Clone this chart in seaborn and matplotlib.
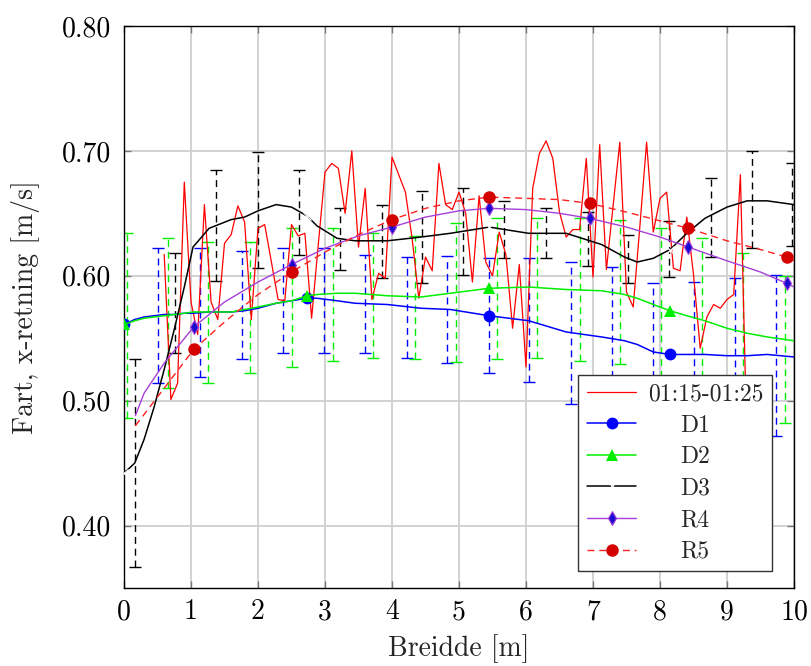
import numpy as np
import pandas as pd
import matplotlib
matplotlib.use("Agg")
import matplotlib.pyplot as plt
import seaborn as sns

# ---- data -------------------------------------------------------------
red_x = [round(0.6 + 0.1 * i, 1) for i in range(88)]
red_y = [0.617, 0.501, 0.514, 0.675, 0.579, 0.553, 0.657, 0.579, 0.565, 0.626,
         0.633, 0.656, 0.643, 0.565, 0.638, 0.641, 0.611, 0.581, 0.580, 0.641,
         0.632, 0.634, 0.566, 0.625, 0.683, 0.690, 0.686, 0.650, 0.700, 0.623,
         0.670, 0.581, 0.602, 0.598, 0.695, 0.681, 0.667, 0.630, 0.582, 0.615,
         0.604, 0.690, 0.657, 0.653, 0.667, 0.650, 0.595, 0.664, 0.611, 0.600,
         0.635, 0.617, 0.558, 0.609, 0.527, 0.670, 0.698, 0.708, 0.694, 0.651,
         0.631, 0.637, 0.637, 0.694, 0.599, 0.705, 0.605, 0.656, 0.707, 0.587,
         0.575, 0.640, 0.707, 0.635, 0.662, 0.667, 0.606, 0.604, 0.647, 0.601,
         0.542, 0.567, 0.577, 0.574, 0.581, 0.585, 0.681, 0.460]

d_x = [0, 0.16, 0.3, 0.45, 0.6, 0.75, 0.9, 1.03, 1.27, 1.6, 1.8, 2.0, 2.27, 2.5,
       2.73, 2.88, 3.18, 3.45, 3.93, 4.43, 4.87, 5.45, 6.04, 6.6, 7.13, 7.47,
       7.66, 7.9, 8.15, 8.4, 8.67, 9.0, 9.3, 9.6, 10.0]
d1_y = [0.561, 0.565, 0.567, 0.568, 0.569, 0.569, 0.570, 0.570, 0.571, 0.571,
        0.572, 0.574, 0.578, 0.580, 0.582, 0.582, 0.580, 0.578, 0.577, 0.574,
        0.573, 0.568, 0.564, 0.555, 0.551, 0.548, 0.545, 0.539, 0.537, 0.537,
        0.537, 0.536, 0.536, 0.537, 0.535]
d2_y = [0.561, 0.564, 0.566, 0.567, 0.568, 0.569, 0.570, 0.571, 0.571, 0.571,
        0.573, 0.575, 0.578, 0.580, 0.584, 0.585, 0.586, 0.586, 0.584, 0.583,
        0.586, 0.590, 0.591, 0.589, 0.588, 0.585, 0.582, 0.577, 0.572, 0.568,
        0.564, 0.558, 0.554, 0.551, 0.548]
d3_y = [0.442, 0.450, 0.469, 0.495, 0.525, 0.557, 0.591, 0.623, 0.638, 0.645,
        0.647, 0.652, 0.657, 0.655, 0.648, 0.640, 0.630, 0.628, 0.628, 0.631,
        0.634, 0.639, 0.634, 0.634, 0.625, 0.615, 0.611, 0.614, 0.621, 0.634,
        0.646, 0.655, 0.660, 0.660, 0.657]
d_marks = [0, 14, 21, 28]

r_x = [0.17, 0.3, 0.6, 1.04, 1.5, 2.0, 2.5, 3.0, 3.5, 4.0, 4.5, 5.0, 5.45, 6.0,
       6.5, 6.95, 7.5, 8.0, 8.42, 9.0, 9.5, 9.89, 10.0]
r4_y = [0.488, 0.506, 0.530, 0.559, 0.579, 0.595, 0.609, 0.622, 0.632, 0.639,
        0.647, 0.652, 0.654, 0.653, 0.650, 0.646, 0.639, 0.631, 0.623, 0.612,
        0.603, 0.594, 0.591]
r5_y = [0.480, 0.489, 0.510, 0.541, 0.563, 0.585, 0.603, 0.619, 0.633, 0.645,
        0.654, 0.660, 0.663, 0.662, 0.661, 0.658, 0.651, 0.644, 0.638, 0.628,
        0.621, 0.615, 0.612]
r_marks = [3, 6, 9, 12, 15, 18, 21]

# error bars (position, low, high)
e1_x = [0.51, 1.13, 1.76, 2.38, 2.99, 3.60, 4.22, 4.82, 5.45, 6.04, 6.67, 7.28, 7.90, 8.51, 9.12, 9.73]
e1_lo = [0.514, 0.519, 0.533, 0.538, 0.538, 0.538, 0.534, 0.530, 0.522, 0.515, 0.497, 0.490, 0.490, 0.490, 0.480, 0.472]
e1_hi = [0.622, 0.622, 0.620, 0.622, 0.622, 0.617, 0.615, 0.616, 0.614, 0.614, 0.611, 0.607, 0.594, 0.595, 0.598, 0.601]
e2_x = [0.04, 0.66, 1.26, 1.88, 2.50, 3.12, 3.72, 4.34, 4.95, 5.56, 6.17, 6.80, 7.40, 8.01, 8.63, 9.24, 9.86]
e2_lo = [0.486, 0.510, 0.514, 0.522, 0.527, 0.532, 0.534, 0.533, 0.531, 0.533, 0.534, 0.532, 0.529, 0.500, 0.500, 0.490, 0.482]
e2_hi = [0.634, 0.630, 0.627, 0.627, 0.638, 0.638, 0.634, 0.632, 0.642, 0.646, 0.646, 0.646, 0.645, 0.638, 0.630, 0.618, 0.600]
e3_x = [0.16, 0.76, 1.38, 2.00, 2.61, 3.22, 3.85, 4.45, 5.06, 5.67, 6.30, 6.92, 7.52, 8.14, 8.76, 9.37, 9.97]
e3_lo = [0.367, 0.538, 0.596, 0.606, 0.617, 0.605, 0.598, 0.594, 0.601, 0.614, 0.614, 0.608, 0.594, 0.599, 0.615, 0.622, 0.624]
e3_hi = [0.533, 0.618, 0.685, 0.699, 0.685, 0.654, 0.657, 0.668, 0.670, 0.660, 0.654, 0.651, 0.633, 0.644, 0.678, 0.700, 0.690]

x_ticks = [0, 1, 2, 3, 4, 5, 6, 7, 8, 9, 10]
y_ticks = [0.40, 0.50, 0.60, 0.70, 0.80]

# ---- style ------------------------------------------------------------
sns.set_style("whitegrid")
plt.rcParams["font.family"] = ["cmr10", "DejaVu Serif"]
plt.rcParams["axes.formatter.use_mathtext"] = True
plt.rcParams["mathtext.fontset"] = "cm"

fig = plt.figure(figsize=(8.11, 6.66), dpi=100)
ax = fig.add_axes([124 / 811, 1 - 588 / 666, 670 / 811, 562 / 666])

FS = 20
LFS = 17
BLUE = "#0000ff"
GREEN = "#00ee00"
PURPLE = "#a640d8"

sns.lineplot(x=red_x, y=red_y, ax=ax, color="#ff0000", lw=0.9,
             sort=False, estimator=None, label="01:15-01:25", zorder=3)

def ebars(xs, lo, hi, color, z):
    xs = np.asarray(xs); lo = np.asarray(lo); hi = np.asarray(hi)
    mid = (lo + hi) / 2
    err = (hi - lo) / 2
    _, caps, bars = ax.errorbar(xs, mid, yerr=err, fmt="none", ecolor=color,
                                elinewidth=1.0, capsize=4, capthick=1.0, zorder=z)
    for b in bars:
        b.set_linestyle((0, (5, 3.5)))

ebars(e1_x, e1_lo, e1_hi, BLUE, 2.5)
sns.lineplot(x=d_x, y=d1_y, ax=ax, color=BLUE, lw=1.1, sort=False, estimator=None,
             marker="o", markersize=8.5, markevery=d_marks, markeredgewidth=0,
             label="D1", zorder=4)
ebars(e2_x, e2_lo, e2_hi, GREEN, 2.5)
sns.lineplot(x=d_x, y=d2_y, ax=ax, color=GREEN, lw=1.1, sort=False, estimator=None,
             marker="^", markersize=9, markevery=d_marks, markeredgewidth=0,
             label="D2", zorder=4)
ebars(e3_x, e3_lo, e3_hi, "black", 2.5)
sns.lineplot(x=d_x, y=d3_y, ax=ax, color="black", lw=1.1, sort=False, estimator=None,
             marker="x", markersize=6, markevery=d_marks, markeredgewidth=0.9,
             label="D3", zorder=4)
sns.lineplot(x=r_x, y=r4_y, ax=ax, color=PURPLE, lw=1.0, sort=False, estimator=None,
             marker="d", markersize=7, markevery=r_marks, markerfacecolor="#1a0ad0",
             markeredgecolor=PURPLE, markeredgewidth=0.8, label="R4", zorder=5)
sns.lineplot(x=r_x, y=r5_y, ax=ax, color="#ff2020", lw=1.0, sort=False, estimator=None,
             marker="o", markersize=9, markevery=r_marks, markerfacecolor="#d40000",
             markeredgecolor="#d40000", markeredgewidth=0, dashes=False,
             linestyle=(0, (5, 3.5)), label="R5", zorder=6)

ax.set_xlim(0, 10)
ax.set_ylim(0.35, 0.80)
ax.set_xticks(x_ticks)
ax.set_yticks(y_ticks)
ax.set_xticklabels([str(t) for t in x_ticks])
ax.set_yticklabels([f"{t:.2f}" for t in y_ticks])
ax.grid(True, color="#cfcfcf", lw=1.3)
ax.set_axisbelow(True)
for s in ax.spines.values():
    s.set_color("black")
    s.set_linewidth(1.0)
    s.set_visible(True)
ax.tick_params(axis="both", which="major", direction="in", length=5, width=1,
               color="#777777", labelsize=FS, top=True, right=True,
               bottom=True, left=True, labelcolor="black")
ax.tick_params(axis="x", pad=8)
ax.tick_params(axis="y", pad=9)
ax.set_xlabel("Breidde [m]", fontsize=FS, labelpad=6)
ax.set_ylabel("Fart, x-retning [m/s]", fontsize=FS, labelpad=16)

leg = ax.legend(loc="lower right", bbox_to_anchor=(0.967, 0.030), fontsize=LFS,
                frameon=True, fancybox=False, framealpha=1, edgecolor="#333333",
                borderaxespad=0, handlelength=2.1, labelspacing=0.4,
                handletextpad=0.5, borderpad=0.35)
leg.get_frame().set_linewidth(1.0)
leg.set_zorder(10)
for t in leg.get_texts()[1:]:
    t.set_x(32)

fig.savefig("out.png", dpi=100)
